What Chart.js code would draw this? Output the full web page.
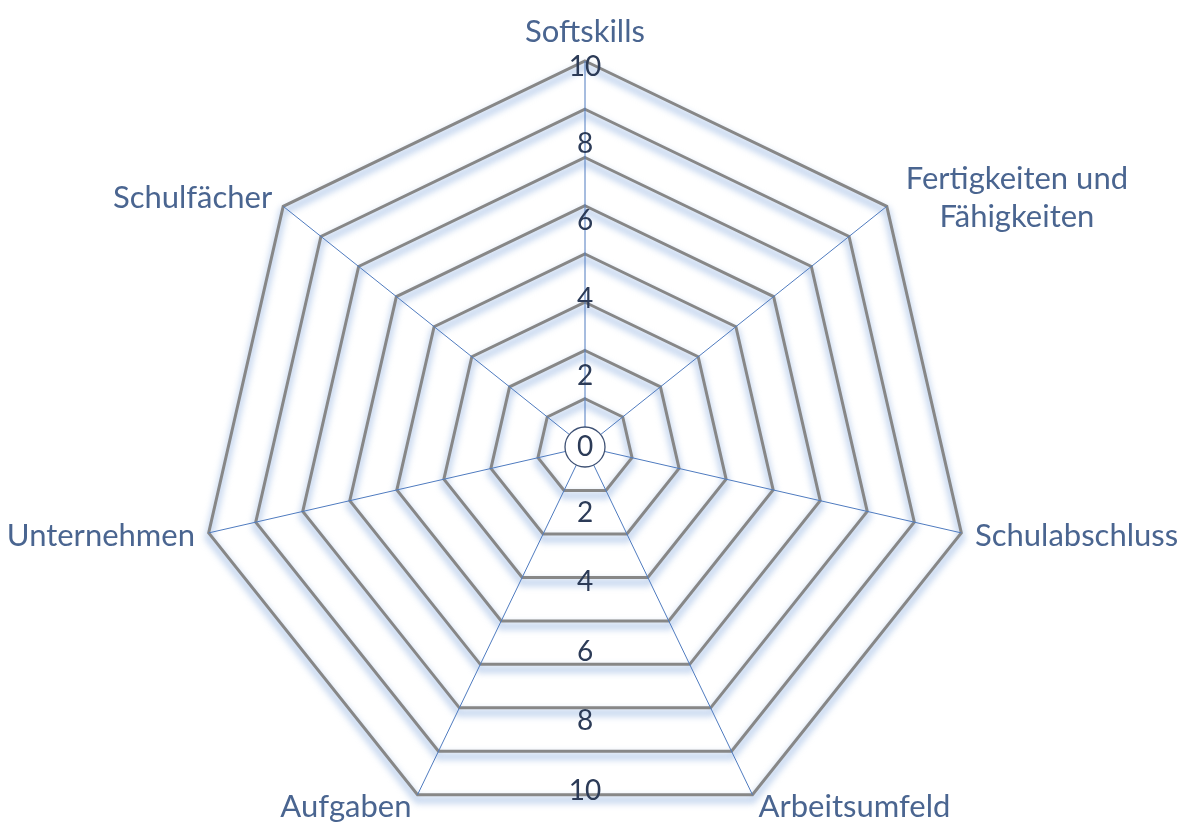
<!DOCTYPE html>
<html>
<head>
<meta charset="utf-8">
<script src="https://cdn.jsdelivr.net/npm/chart.js@4.4.0/dist/chart.umd.min.js"></script>
<style>
html,body{margin:0;padding:0;background:#fff;overflow:hidden}
#wrap{width:1186px;height:833px}
</style>
</head>
<body>
<div id="wrap"><canvas id="myChart"></canvas></div>
<script>
// data
var categories = ['Softskills', ['Fertigkeiten und', 'Fähigkeiten'], 'Schulabschluss', 'Arbeitsumfeld', 'Aufgaben', 'Unternehmen', 'Schulfächer'];
var values = [0, 0, 0, 0, 0, 0, 0];
var tickLabels = [2, 4, 6, 8, 10];
var scaleMax = 10;
var ringStep = 1.25;

var labelFont = '31px Lato';
var labelColor = '#4a6590';
var tickFont = '28px Lato';
var tickColor = '#2c3b57';

// soft blue shadow under the grey rings, axis labels, tick labels and the 0 circle
var radarExtras = {
    id: 'radarExtras',
    beforeDraw: function(chart){
        var ctx = chart.ctx, s = chart.scales.r;
        ctx.save();
        ctx.strokeStyle = 'rgba(165,192,230,0.6)';
        ctx.lineWidth = 8;
        ctx.filter = 'blur(3px)';
        s.ticks.forEach(function(t){
            if(t.value <= 0) return;
            ctx.beginPath();
            for(var i = 0; i < categories.length; i++){
                var p = s.getPointPositionForValue(i, t.value);
                if(i == 0) ctx.moveTo(p.x, p.y + 5); else ctx.lineTo(p.x, p.y + 5);
            }
            ctx.closePath();
            ctx.stroke();
        });
        ctx.restore();
    },
    afterDraw: function(chart){
        var ctx = chart.ctx, s = chart.scales.r;
        var cx = s.xCenter, cy = s.yCenter;
        ctx.save();

        // axis labels
        ctx.font = labelFont;
        ctx.fillStyle = labelColor;
        for(var i = 0; i < categories.length; i++){
            var p = s.getPointPosition(i, s.drawingArea + 14);
            var a = s.getIndexAngle(i);
            var sn = Math.sin(a);
            var lines = [].concat(categories[i]);
            var w = 0;
            lines.forEach(function(l){ w = Math.max(w, ctx.measureText(l).width); });
            var left;
            if(sn > 0.1) left = p.x + (lines.length > 1 ? 8 : 0);
            else if(sn < -0.1) left = p.x - w;
            else left = p.x - w / 2;
            var lh = 38;
            var y0;
            if(Math.abs(sn) <= 0.1){
                ctx.textBaseline = 'bottom';
                y0 = p.y - (lines.length - 1) * lh;
            }else{
                ctx.textBaseline = 'middle';
                y0 = p.y - (lines.length - 1) * lh / 2;
            }
            ctx.textAlign = 'center';
            lines.forEach(function(l, j){
                ctx.fillText(l, left + w / 2, y0 + j * lh);
            });
        }

        // center circle with 0
        ctx.beginPath();
        ctx.arc(cx, cy, 20, 0, Math.PI * 2);
        ctx.fillStyle = '#fff';
        ctx.fill();
        ctx.lineWidth = 1.3;
        ctx.strokeStyle = '#3d5073';
        ctx.stroke();
        ctx.fillStyle = tickColor;
        ctx.font = tickFont;
        ctx.textAlign = 'center';
        ctx.textBaseline = 'middle';
        ctx.fillText('0', cx, cy);

        // tick labels up the first axis and down to the bottom edge
        var k = Math.cos(Math.PI / categories.length);
        tickLabels.forEach(function(v){
            var d = s.getDistanceFromCenterForValue(v);
            ctx.fillText(String(v), cx, cy - d + 6);
            ctx.fillText(String(v), cx, cy + d * k - 4);
        });
        ctx.restore();
    }
};

var ctx = document.getElementById('myChart').getContext('2d');
var myChart = new Chart(ctx, {
    type: 'radar',
    data: {
        labels: categories,
        datasets: [{
            label: 'Werte',
            data: values,
            borderWidth: 0,
            pointRadius: 0,
            backgroundColor: 'rgba(0,0,0,0)',
            borderColor: 'rgba(0,0,0,0)'
        }]
    },
    options: {
        responsive: true,
        maintainAspectRatio: false,
        animation: false,
        layout: { padding: { top: 61, bottom: 0, left: 0, right: 16 } },
        plugins: { legend: { display: false }, tooltip: { enabled: false } },
        scales: {
            r: {
                min: 0,
                max: scaleMax,
                ticks: { stepSize: ringStep, display: false },
                grid: { color: '#878787', lineWidth: 3 },
                angleLines: { color: '#4f7bbf', lineWidth: 1 },
                pointLabels: { display: false }
            }
        }
    },
    plugins: [radarExtras]
});
</script>
</body>
</html>
